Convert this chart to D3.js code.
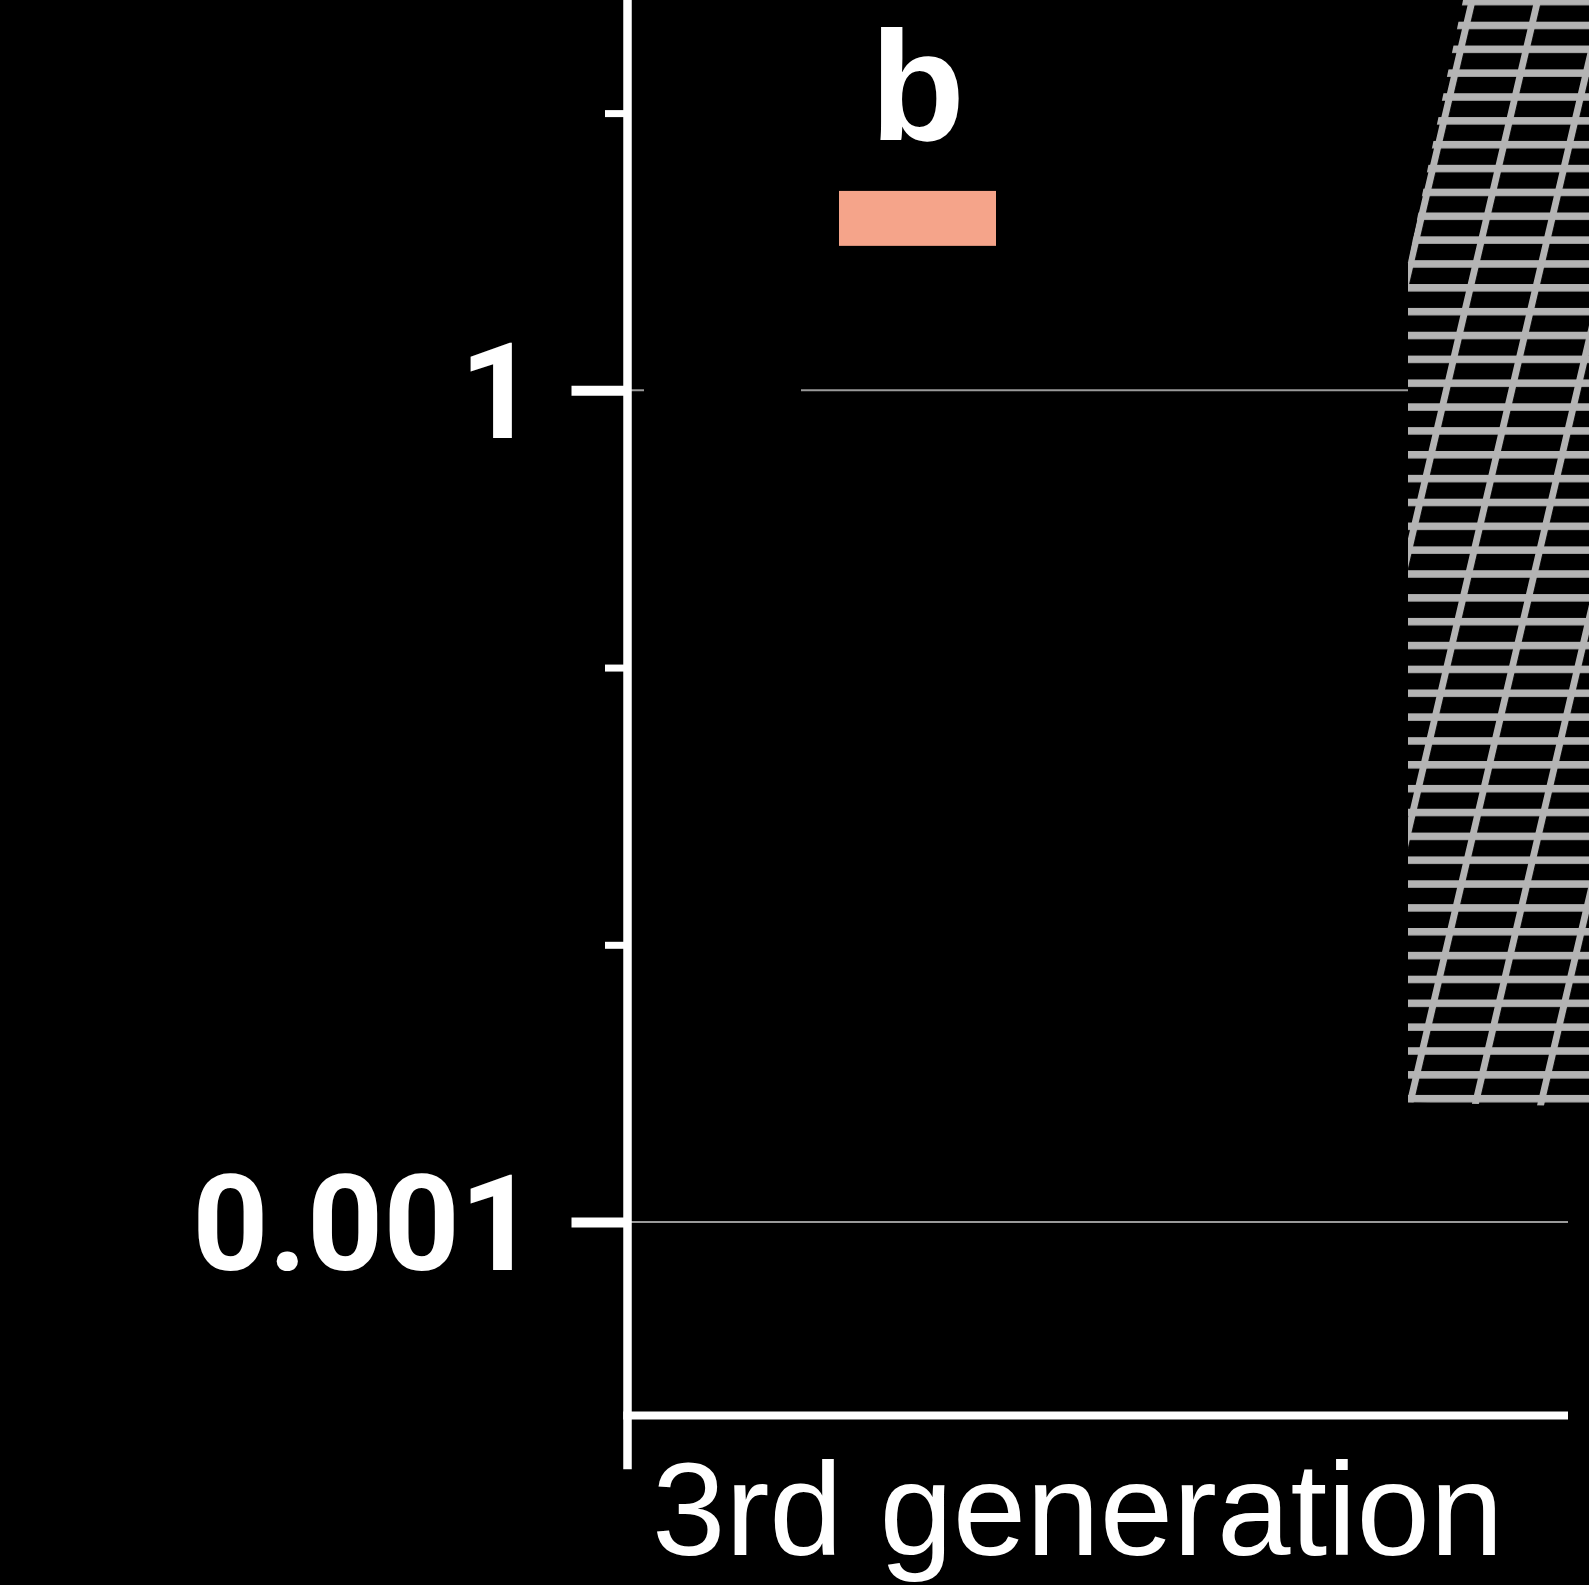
<!DOCTYPE html>
<meta charset="utf-8">
<html>
<head>
  <style>
  body { margin: 0; background: #000; }
  svg { display: block; background: #000; }
  text.ylab { font-family: Roboto, "Liberation Sans", Arial, sans-serif; font-weight: bold; font-size: 133px; fill: #fff; }
  text.letter { font-family: "Liberation Sans", Arial, sans-serif; font-weight: bold; font-size: 155px; fill: #fff; }
  text.group { font-family: "Liberation Sans", Arial, sans-serif; font-size: 132px; fill: #fff; }
  </style>
  <script src="https://d3js.org/d3.v7.min.js"></script>
</head>
<body>
  <div id="chart"></div>
  <script type="text/javascript">
  var W = 1589, H = 1585;

  /* Data */

  // Group label on the x axis
  var groupNames = ["3rd generation"];

  // Bars inside the group (floating ranges, log scale)
  var barKeys = ["A", "B", "C", "D", "E"];
  var barLow = [0.3, 3.32, null, null, 0.0027];
  var barHigh = [3.5, 5.24, null, null, 100];
  var barLetters = ["", "b", "", "", ""];

  // Y ticks, only some are labelled
  var yTicks = [10, 1, 0.1, 0.01, 0.001];
  var yLabelled = [1, 0.001];

  /* Layout */
  var axisX = 627.5, axisBottomY = 1415.8, plotRight = 1568;
  var decade = 277.23;
  var yDomain = [0.0002, 100];
  var groupTickLen = 53.5;
  var hatchKnee = 2.9, hatchSlant = 0.21, hatchDrop = 0.022;

  var svg = d3.select("#chart").append("svg")
    .attr("width", W)
    .attr("height", H);

  var y = d3.scaleLog()
    .domain(yDomain)
    .range([axisBottomY, axisBottomY - decade * Math.log10(yDomain[1] / yDomain[0])]);

  var x = d3.scaleBand()
    .domain(barKeys)
    .range([644, 1581])
    .paddingInner(38 / 195)
    .paddingOuter(0);

  var groupX = d3.scaleBand()
    .domain(groupNames)
    .range([axisX, plotRight]);

  // Hatch pattern for the last bar
  var defs = svg.append("defs");
  var pw = 65.5, ph = 23.85, lw = 7.5;
  var pat = defs.append("pattern")
    .attr("id", "grid")
    .attr("patternUnits", "userSpaceOnUse")
    .attr("width", pw)
    .attr("height", ph)
    .attr("y", y(barLow[4]) - lw)
    .attr("patternTransform", "skewX(-13.2)");
  pat.append("rect").attr("width", pw).attr("height", ph).attr("fill", "#000");
  pat.append("rect").attr("x", 0).attr("y", 0).attr("width", pw).attr("height", lw).attr("fill", "#b4b4b4");
  pat.append("rect").attr("x", 27.8).attr("y", 0).attr("width", 7).attr("height", ph).attr("fill", "#b4b4b4");
  defs.append("filter").attr("id", "soft")
    .append("feGaussianBlur").attr("stdDeviation", 0.5);

  // Gridlines
  svg.append("g").selectAll("line")
    .data(yLabelled)
    .enter().append("line")
    .attr("x1", axisX)
    .attr("x2", plotRight)
    .attr("y1", function(d) { return y(d); })
    .attr("y2", function(d) { return y(d); })
    .attr("stroke", "#9a9a9a")
    .attr("stroke-width", 2);

  // Bars
  var bars = barKeys.map(function(k, i) {
    return { key: k, low: barLow[i], high: barHigh[i], letter: barLetters[i], i: i };
  }).filter(function(d) { return d.low != null; });

  var last = barKeys.length - 1;
  svg.append("g").selectAll("rect")
    .data(bars.filter(function(d) { return d.i !== last; }))
    .enter().append("rect")
    .attr("x", function(d) { return x(d.key); })
    .attr("y", function(d) { return y(d.high); })
    .attr("width", x.bandwidth())
    .attr("height", function(d) { return y(d.low) - y(d.high); })
    .attr("fill", function(d) { return d.i === 0 ? "#000" : "#f5a48a"; });

  // Hatched bar (wider, with slanted top-left edge)
  var hb = bars.filter(function(d) { return d.i === last; })[0];
  var xl = x(hb.key) - (x.step() - x.bandwidth()) / 2 + 3;
  var xr = x.range()[1] + x.step();
  var yb = y(hb.low), yk = y(hatchKnee), yt = y(hb.high);
  var hatchPath = d3.path();
  hatchPath.moveTo(xl, yb);
  hatchPath.lineTo(xl, yk);
  hatchPath.lineTo(xl + (yk - yt) * hatchSlant, yt);
  hatchPath.lineTo(xr, yt);
  hatchPath.lineTo(xr, yb + (xr - xl) * hatchDrop);
  hatchPath.closePath();
  svg.append("path")
    .attr("d", hatchPath.toString())
    .attr("fill", "url(#grid)")
    .attr("filter", "url(#soft)");

  // Letters above bars
  svg.append("g").selectAll("text")
    .data(bars.filter(function(d) { return d.letter; }))
    .enter().append("text")
    .attr("class", "letter")
    .attr("x", function(d) { return x(d.key) + x.bandwidth() / 2; })
    .attr("y", function(d) { return y(d.high) - 51; })
    .attr("text-anchor", "middle")
    .text(function(d) { return d.letter; });

  // Y axis
  var yAxis = d3.axisLeft(y)
    .tickValues(yTicks)
    .tickSizeOuter(0)
    .tickFormat(function(d) { return yLabelled.indexOf(d) >= 0 ? d3.format("~g")(d) : ""; });

  var gy = svg.append("g")
    .attr("transform", "translate(" + axisX + ",0)")
    .call(yAxis);
  gy.select(".domain").remove();
  gy.selectAll(".tick line")
    .attr("x2", function(d) { return yLabelled.indexOf(d) >= 0 ? -56 : -22.5; })
    .attr("stroke", "#fff")
    .attr("stroke-width", function(d) { return yLabelled.indexOf(d) >= 0 ? 10 : 7; });
  gy.selectAll(".tick text")
    .attr("class", "ylab")
    .attr("x", -91.5)
    .attr("dy", "0.355em")
    .attr("font-size", null)
    .attr("font-family", null)
    .attr("fill", null);

  gy.append("line")
    .attr("x1", 0).attr("x2", 0)
    .attr("y1", y.range()[1])
    .attr("y2", y.range()[0] + groupTickLen)
    .attr("stroke", "#fff")
    .attr("stroke-width", 8.5);

  // X axis
  svg.append("line")
    .attr("x1", groupX.range()[0] - 4.25)
    .attr("x2", groupX.range()[1])
    .attr("y1", y.range()[0] - 0.3)
    .attr("y2", y.range()[0] - 0.3)
    .attr("stroke", "#fff")
    .attr("stroke-width", 8);

  svg.append("g").selectAll("text")
    .data(groupNames)
    .enter().append("text")
    .attr("class", "group")
    .attr("x", function(d) { return groupX(d) + 24.5; })
    .attr("y", y.range()[0] + 139)
    .text(function(d) { return d; });
  </script>
</body>
</html>
